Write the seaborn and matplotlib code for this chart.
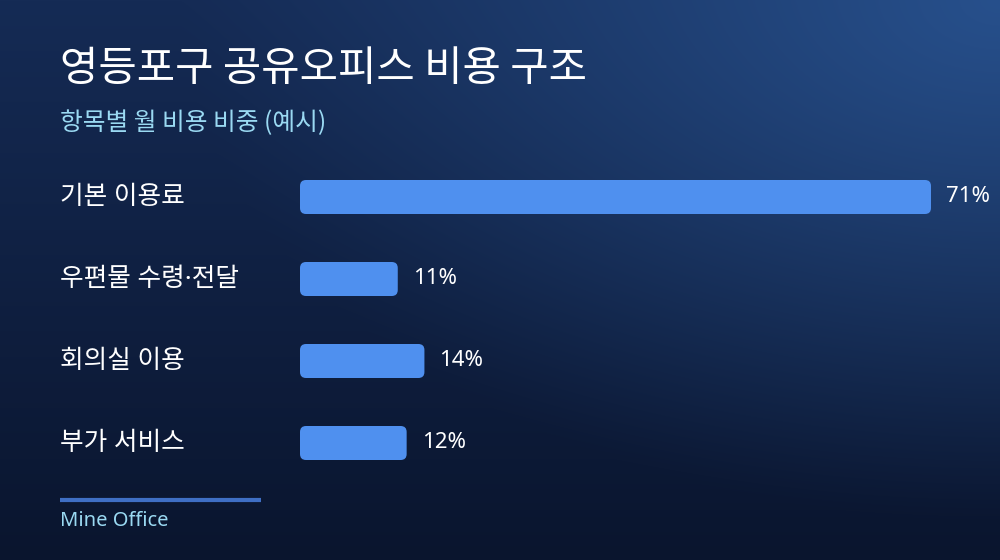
import numpy as np
import pandas as pd
import matplotlib
matplotlib.use("Agg")
import matplotlib.pyplot as plt
import seaborn as sns
from matplotlib.patches import FancyBboxPatch
from matplotlib.colors import to_rgb
from matplotlib.transforms import blended_transform_factory

# Chart data
categories = ["기본 이용료", "우편물 수령·전달", "회의실 이용", "부가 서비스"]
shares = [71, 11, 14, 12]
value_labels = ["71%", "11%", "14%", "12%"]

title = "영등포구 공유오피스 비용 구조"
subtitle = "항목별 월 비용 비중 (예시)"
footer = "Mine Office"

df = pd.DataFrame({"item": categories, "share": shares})

sns.set_theme(style="white")
plt.rcParams["font.family"] = ["Noto Sans CJK KR", "DejaVu Sans"]

W, H = 1000, 560
fig = plt.figure(figsize=(W / 100, H / 100), dpi=100)

# Background: dark navy gradient with a soft glow in the top right
bg = fig.add_axes([0, 0, 1, 1])
yy, xx = np.mgrid[0:H, 0:W]
t = yy / H
top = np.array(to_rgb("#152b55"))
bottom = np.array(to_rgb("#0a152e"))
img = top[None, None, :] * (1 - t[..., None]) + bottom[None, None, :] * t[..., None]
glow = np.array(to_rgb("#27508c"))
d = np.sqrt(((xx - W) / 820.0) ** 2 + (yy / 520.0) ** 2)
g = np.clip(1 - d, 0, 1) ** 1.1
img = img * (1 - g[..., None]) + glow[None, None, :] * g[..., None]
bg.imshow(img, extent=[0, W, H, 0], aspect="auto")
bg.set_xlim(0, W)
bg.set_ylim(H, 0)
bg.axis("off")

# Bar area
ax = fig.add_axes([0.30, 1 - 484 / H, 0.631, 328 / H])
ax.patch.set_alpha(0)
sns.barplot(data=df, x="share", y="item", orient="h", color="#4f90ef",
            width=34 / 82, ax=ax)
ax.set_xlim(0, max(shares))
ax.set_ylim(3.5, -0.5)

# rounded corners on the bars
px_x = 631 / max(shares)
px_y = 82.0
r = 6.0
for p in list(ax.patches):
    x0, y0, w, h = p.get_x(), p.get_y(), p.get_width(), p.get_height()
    p.remove()
    ax.add_patch(FancyBboxPatch((x0, y0), w, h,
                                boxstyle=f"round,pad=0,rounding_size={r / px_x}",
                                mutation_aspect=px_x / px_y,
                                facecolor="#4f90ef", edgecolor="none"))

for i, (v, lab) in enumerate(zip(shares, value_labels)):
    ax.text(v + 15 / px_x, i, lab, ha="left", va="center", color="white",
            fontsize=16, family=["Noto Sans", "DejaVu Sans"])

ax.set_xlabel("")
ax.set_ylabel("")
ax.set_xticks([])
ax.set_yticks([])
sns.despine(ax=ax, left=True, bottom=True)

# category labels aligned to the left margin
tr = blended_transform_factory(fig.transFigure, ax.transData)
for i, c in enumerate(categories):
    ax.text(0.06, i, c, transform=tr, ha="left", va="center",
            color="white", fontsize=18.5,
            family=["Noto Sans", "Noto Sans CJK KR"])

# Titles
fig.text(0.06, 1 - 70 / H, title, ha="left", va="center", color="white",
         fontsize=30, fontweight="medium")
fig.text(0.06, 1 - 123 / H, subtitle, ha="left", va="center", color="#9ad9f2",
         fontsize=17.8)

# Footer
bg.plot([60, 261], [500, 500], color="#3f6fc4", lw=3, solid_capstyle="butt")
fig.text(0.06, 1 - 521 / H, footer, ha="left", va="center", color="#9ad9f2",
         fontsize=14.5, family=["Noto Sans", "DejaVu Sans"])

fig.savefig("out.png", dpi=100)
